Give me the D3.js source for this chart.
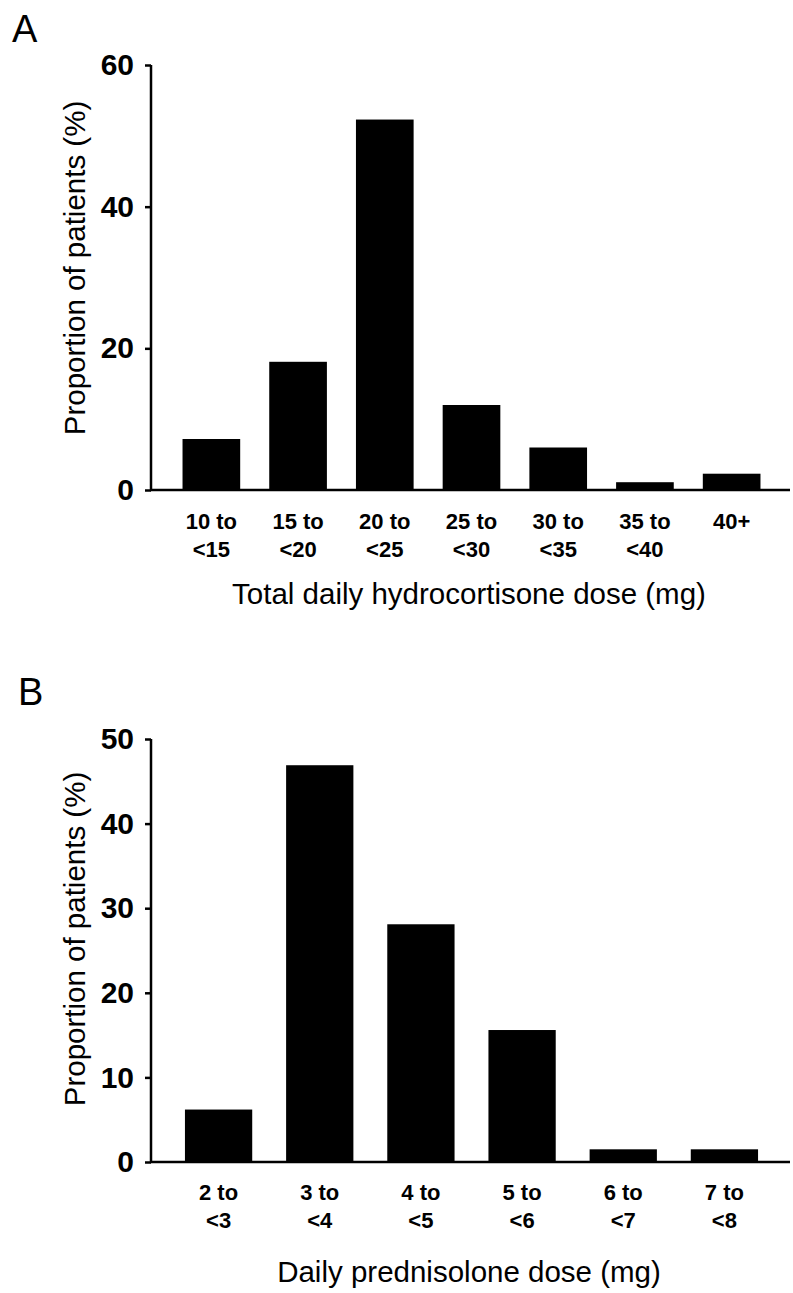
<!DOCTYPE html>
<html><head><meta charset="utf-8">
<script src="https://cdn.jsdelivr.net/npm/d3@7"></script>
<style>
html,body{margin:0;padding:0;background:#fff;}
svg{display:block;font-family:"Liberation Sans",Arial,Helvetica,sans-serif;}
</style></head>
<body>
<svg id="chart" width="793" height="1293"></svg>
<script>
// Panel A data
const catsA = [["10 to","<15"],["15 to","<20"],["20 to","<25"],["25 to","<30"],["30 to","<35"],["35 to","<40"],["40+"]];
const valsA = [7.2, 18.1, 52.3, 12.0, 6.0, 1.1, 2.3];
const ticksA = [0, 20, 40, 60];
// Panel B data
const catsB = [["2 to","<3"],["3 to","<4"],["4 to","<5"],["5 to","<6"],["6 to","<7"],["7 to","<8"]];
const valsB = [6.2, 46.9, 28.1, 15.6, 1.5, 1.5];
const ticksB = [0, 10, 20, 30, 40, 50];

const svg = d3.select("#chart");

function panel(cfg){
  const g = svg.append("g");
  const x = d3.scaleBand().domain(cfg.cats.map((c,i)=>i)).range([168,775]).paddingInner(0.335).paddingOuter(0.1675);
  const y = d3.scaleLinear().domain([0, cfg.max]).range([cfg.y0, cfg.yTop]);

  g.append("text").attr("x",cfg.letterX).attr("y",cfg.letterY).attr("font-size",38).attr("fill","#000").text(cfg.letter);

  g.selectAll("rect.bar").data(cfg.vals).enter().append("rect")
    .attr("x",(d,i)=>x(i)).attr("width",x.bandwidth())
    .attr("y",d=>y(d)).attr("height",d=>y(0)-y(d)).attr("fill","#000");

  const ax = g.append("g").attr("transform","translate(151,0)")
    .call(d3.axisLeft(y).tickValues(cfg.ticks).tickSize(6).tickPadding(11).tickFormat(d3.format("d")));
  ax.select(".domain").attr("stroke","#000").attr("stroke-width",2.5).attr("d",`M0,${y(cfg.max)}V${y(0)}`);
  ax.selectAll(".tick line").attr("stroke","#000").attr("stroke-width",2.5);
  ax.selectAll(".tick text").attr("font-size",30).attr("font-weight","bold").attr("fill","#000")
    .attr("font-family","'Liberation Sans',Arial,sans-serif");

  g.append("line").attr("x1",150).attr("x2",790).attr("y1",y(0)).attr("y2",y(0)).attr("stroke","#000").attr("stroke-width",2.5);

  const lab = g.selectAll("text.cat").data(cfg.cats).enter().append("text")
    .attr("class","cat").attr("text-anchor","middle").attr("font-size",22).attr("font-weight","bold")
    .attr("x",(d,i)=>x(i)+x.bandwidth()/2).attr("y",cfg.y0+cfg.labOff);
  lab.selectAll("tspan").data(d=>d).enter().append("tspan")
    .attr("x",function(){return d3.select(this.parentNode).attr("x");})
    .attr("dy",(d,i)=>i===0?0:28).text(d=>d);

  g.append("text").attr("text-anchor","middle").attr("font-size",29.5)
    .attr("x",469).attr("y",cfg.y0+cfg.titleOff).text(cfg.xTitle);

  g.append("text").attr("text-anchor","middle").attr("font-size",29.5)
    .attr("transform",`translate(85,${cfg.yTitleC}) rotate(-90)`).text("Proportion of patients (%)");
}

panel({letter:"A", letterX:12, letterY:42, cats:catsA, vals:valsA, ticks:ticksA, max:60, y0:490, yTop:65,
       labOff:39, titleOff:114, yTitleC:268, xTitle:"Total daily hydrocortisone dose (mg)"});
panel({letter:"B", letterX:18, letterY:705, cats:catsB, vals:valsB, ticks:ticksB, max:50, y0:1162, yTop:739,
       labOff:38, titleOff:120, yTitleC:939, xTitle:"Daily prednisolone dose (mg)"});
</script>
</body></html>
